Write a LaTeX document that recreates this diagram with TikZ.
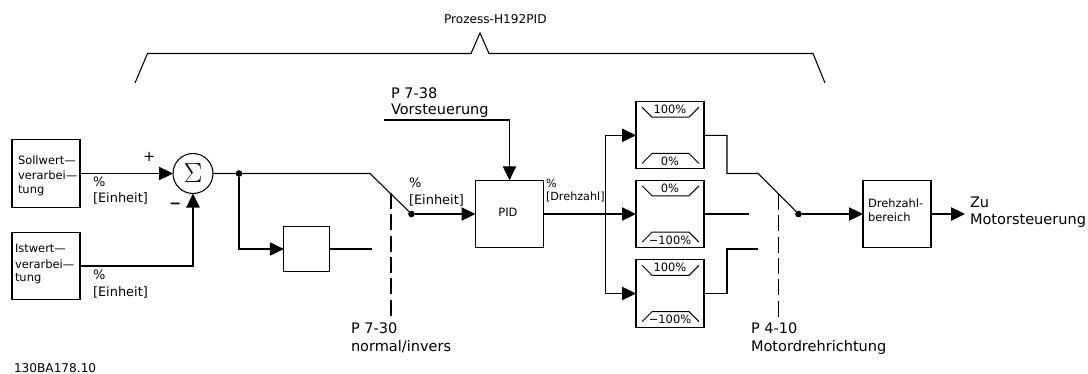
\documentclass[tikz,border=0pt]{standalone}
\usepackage{fontspec}
\setmainfont{DejaVu Sans}
\usetikzlibrary{arrows.meta,calc}
\newcommand{\fbig}{\fontsize{10.9}{12}\selectfont}
\newcommand{\funit}{\fontsize{9.7}{11}\selectfont}
\newcommand{\ftitle}{\fontsize{9.1}{11}\selectfont}
\newcommand{\fmid}{\fontsize{8.6}{11}\selectfont}
\newcommand{\fsml}{\fontsize{8.4}{10}\selectfont}
\tikzset{
  conn/.style={line width=0.8pt,line join=miter},
  arr/.style={conn,-{Triangle[length=10.5pt,width=10pt]}},
  blockbox/.style={draw,line width=0.8pt,minimum width=51pt,minimum height=50.5pt,inner sep=0pt,outer sep=0pt},
  smallbox/.style={draw,line width=0.8pt,minimum width=34pt,minimum height=34pt,inner sep=0pt,outer sep=0pt},
  sumnode/.style={draw,circle,line width=0.8pt,minimum size=30pt,inner sep=0pt,outer sep=0pt,font=\fontsize{20}{20}\selectfont},
  dotnode/.style={fill,circle,minimum size=5pt,inner sep=0pt,outer sep=0pt},
  lbl/.style={anchor=west,inner sep=0pt,outer sep=0pt,font=\fbig},
  lblu/.style={anchor=west,inner sep=0pt,outer sep=0pt,font=\funit},
  lblm/.style={anchor=west,inner sep=0pt,outer sep=0pt,font=\fmid},
  lbls/.style={anchor=west,inner sep=0pt,outer sep=0pt,font=\fsml},
  lim/.style={anchor=center,inner sep=0pt,outer sep=0pt,font=\fmid},
  dashline/.style={line width=0.8pt,dash pattern=on 12pt off 4pt},
  limitmark/.style={line width=0.7pt},
}
\begin{document}
\begin{tikzpicture}[x=0.75pt,y=-0.75pt]
\useasboundingbox (0,0) rectangle (1088,374);
% blocks
\node[blockbox] (soll) at (46,173.5) {};
\node[blockbox] (ist) at (46,266) {};
\node[sumnode] (sum) at (193,173.5) {$\Sigma$};
\node[dotnode] (j1) at (239,173.5) {};
\node[smallbox] (small) at (306.5,249) {};
\node[dotnode] (sw1) at (411.5,214) {};
\node[blockbox] (pid) at (509.5,214) {};
\node[blockbox] (b1) at (670,135.3) {};
\node[blockbox] (b2) at (670,214) {};
\node[blockbox] (b3) at (670,293.5) {};
\node[dotnode] (sw2) at (798.5,214) {};
\node[blockbox] (drz) at (897,214) {};
% coordinates
\coordinate (ctop) at (370,173.5);
\coordinate (cist) at (193,266);
\coordinate (cbr) at (239,249);
\coordinate (csmall) at (372,249);
\coordinate (vs) at (384,120);
\coordinate (vc) at (509.5,120);
\coordinate (split) at (605.5,214);
\coordinate (o2) at (749,214);
\coordinate (o1a) at (727,135.3);
\coordinate (o1b) at (727,173.5);
\coordinate (o1c) at (758,173.5);
\coordinate (o3a) at (727,293.5);
\coordinate (o3b) at (727,249);
\coordinate (o3c) at (758,249);
\coordinate (out) at (965,214);
% connectors
\draw[arr] (soll) -- (sum);
\draw[arr] (ist.east |- cist) -- (cist) -- (sum);
\draw[conn] (sum) -- (j1) -- (ctop) -- (sw1);
\draw[arr] (j1) -- (cbr) -- (small);
\draw[conn] (small) -- (csmall);
\draw[arr] (sw1) -- (pid);
\draw[conn] (vs) -- (vc);
\draw[arr] (vc) -- (pid);
\draw[arr] (pid) -- (b2);
\draw[arr] (split |- b1.west) -- (b1);
\draw[arr] (split |- b3.west) -- (b3);
\draw[conn] (split |- b1.west) -- (split |- b3.west);
\draw[conn] (b1) -- (o1a) -- (o1b) -- (o1c) -- (sw2);
\draw[conn] (b2) -- (o2);
\draw[conn] (b3) -- (o3a) -- (o3b) -- (o3c);
\draw[arr] (sw2) -- (drz);
\draw[arr] (drz) -- (out);
% dashed
\coordinate (d1t) at (391,193); \coordinate (d1b) at (391,317);
\coordinate (d2t) at (778.5,194); \coordinate (d2b) at (778.5,317);
\draw[dashline] (d1t) -- (d1b);
\draw[dashline] (d2t) -- (d2b);
% brace
\coordinate (ba) at (135,83); \coordinate (bb) at (147.5,53.5); \coordinate (bc) at (471,53.5);
\coordinate (bd) at (480,33); \coordinate (be) at (489,53.5); \coordinate (bf) at (813,53.5); \coordinate (bg) at (825,83);
\draw[conn] (ba) -- (bb) -- (bc) -- (bd) -- (be) -- (bf) -- (bg);
\node[lblm,font=\ftitle] (title) at (444,19) {Prozess-H192PID};
% limit marks
\foreach \n in {b1,b2,b3} {
  \draw[limitmark] ($(\n.north west)+(6,5.5)$) -- ++(10,10) -- ++(37,0) -- ++(10,-10);
  \draw[limitmark] ($(\n.south west)+(6,-5.5)$) -- ++(10,-10) -- ++(37,0) -- ++(10,10);
}
\node[lim] (l1a) at (670,109) {100\%};
\node[lim] (l1b) at (670,161) {0\%};
\node[lim] (l2a) at (670,188) {0\%};
\node[lim] (l2b) at (670,240) {−100\%};
\node[lim] (l3a) at (670,267) {100\%};
\node[lim] (l3b) at (670,319) {−100\%};
% labels
\node[lblm] (t1) at (18,160) {Sollwert—};
\node[lblm] (t2) at (18,175) {verarbei—};
\node[lblm] (t3) at (18,191) {tung};
\node[lblm] (t4) at (15,248) {Istwert—};
\node[lblm] (t5) at (15,264) {verarbei—};
\node[lblm] (t6) at (15,279) {tung};
\node[lblu] (t7) at (93,182) {\%};
\node[lblu] (t8) at (93,198) {[Einheit]};
\node[lblu] (t9) at (93,275) {\%};
\node[lblu] (t10) at (93,292) {[Einheit]};
\node[lbl] (plus) at (143,157) {+};
\node[lbl] (minus) at (169,206) {\textbf{−}};
\node[lbl] (t11) at (391,93) {P 7-38};
\node[lbl] (t12) at (391,111) {Vorsteuerung};
\node[lblu] (t13) at (409,183) {\%};
\node[lblu] (t14) at (409,200) {[Einheit]};
\node[lim] (t15) at (508,212) {PID};
\node[lbls] (t16) at (546,183) {\%};
\node[lbls] (t17) at (546,197) {[Drehzahl]};
\node[lbl] (t18) at (351,328) {P 7-30};
\node[lbl] (t19) at (351,347) {normal/invers};
\node[lbl] (t20) at (751,328) {P 4-10};
\node[lbl] (t21) at (751,347) {Motordrehrichtung};
\node[lblm,font=\ftitle] (t22) at (14,368) {130BA178.10};
\node[lblm] (t23) at (868,203) {Drehzahl-};
\node[lblm] (t24) at (868,217) {bereich};
\node[lbl] (t25) at (970,202) {Zu};
\node[lbl] (t26) at (970,221) {Motorsteuerung};
\end{tikzpicture}
\end{document}
